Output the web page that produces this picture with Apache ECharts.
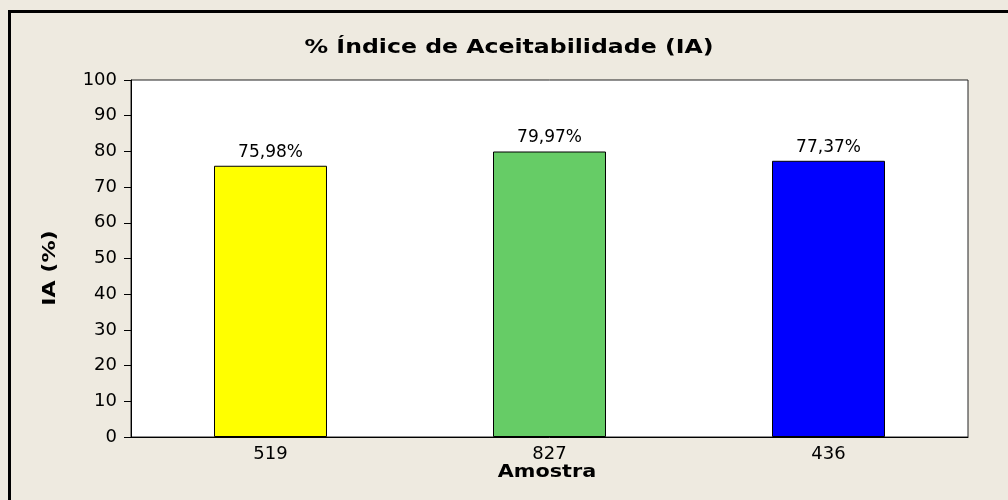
<!DOCTYPE html>
<html>
<head>
<meta charset="utf-8">
<script src="https://cdn.jsdelivr.net/npm/echarts@6/dist/echarts.min.js"></script>
<style>
html,body{margin:0;padding:0;background:#EEEAE0;}
#chart{width:1008px;height:500px;}
</style>
</head>
<body>
<div id="chart"></div>
<script>
const categories = ['519', '827', '436'];
const values = [75.98, 79.97, 77.37];
const barColors = ['#FFFF00', '#66CC66', '#0000FF'];
const yTicks = [0, 10, 20, 30, 40, 50, 60, 70, 80, 90, 100];
const titleText = '% Índice de Aceitabilidade (IA)';
const xName = 'Amostra';
const yName = 'IA (%)';

const chart = echarts.init(document.getElementById('chart'), null, {renderer: 'canvas'});
const font = 'DejaVu Sans';
chart.setOption({
  backgroundColor: '#EEEAE0',
  animation: false,
  grid: {left: 131, right: 40, top: 80, bottom: 63, show: true, backgroundColor: '#FFFFFF', borderColor: '#222', borderWidth: 1},
  graphic: [{
    type: 'rect', shape: {x: 9.5, y: 11.5, width: 1040, height: 540},
    style: {fill: 'none', stroke: '#000', lineWidth: 3}, silent: true
  }, {
    type: 'text', x: 509, y: 48, scaleX: 1.18, silent: true,
    style: {text: titleText, font: 'bold 20px "DejaVu Sans"', fill: '#000', align: 'center', verticalAlign: 'middle'}
  }, {
    type: 'text', x: 547, y: 473, scaleX: 1.22, silent: true,
    style: {text: xName, font: 'bold 17px "DejaVu Sans"', fill: '#000', align: 'center', verticalAlign: 'middle'}
  }, {
    type: 'text', x: 51, y: 268, rotation: Math.PI / 2, scaleX: 1.3, silent: true,
    style: {text: yName, font: 'bold 17px "DejaVu Sans"', fill: '#000', align: 'center', verticalAlign: 'middle'}
  }],
  xAxis: {
    type: 'category', data: categories,
    axisLine: {lineStyle: {color: '#000', width: 1}},
    axisTick: {alignWithLabel: true, length: 6, lineStyle: {color: '#000'}},
    axisLabel: {fontFamily: font, fontSize: 18, color: '#000', margin: 8}
  },
  yAxis: {
    type: 'value', min: 0, max: 100, interval: 10,
    axisLine: {show: true, lineStyle: {color: '#000', width: 1}},
    axisTick: {show: true, length: 7, lineStyle: {color: '#000'}},
    axisLabel: {fontFamily: font, fontSize: 18, color: '#000', margin: 14,
      formatter: v => yTicks.includes(v) ? String(v) : ''},
    splitLine: {show: false}
  },
  series: [{
    type: 'bar',
    data: values.map((v, i) => ({value: v, itemStyle: {color: barColors[i]}})),
    barWidth: '40.5%',
    itemStyle: {borderColor: '#000', borderWidth: 1},
    label: {show: true, position: 'top', distance: 5, fontFamily: font, fontSize: 17, color: '#000',
      formatter: p => p.value.toFixed(2).replace('.', ',') + '%'}
  }]
});
</script>
</body>
</html>
